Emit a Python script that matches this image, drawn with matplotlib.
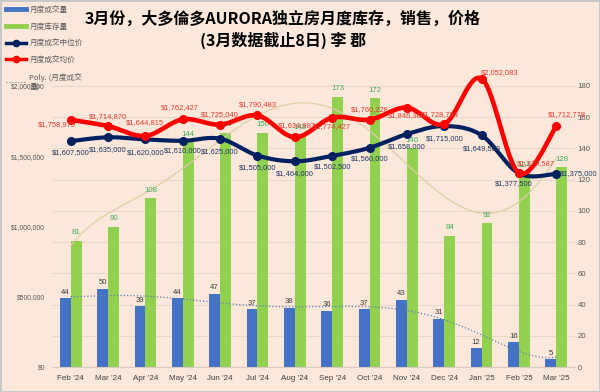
import numpy as np
import matplotlib.pyplot as plt
from matplotlib.lines import Line2D

plt.rcParams['font.family'] = ['Liberation Sans', 'Noto Sans CJK SC']

months = ["Feb '24", "Mar '24", "Apr '24", "May '24", "Jun '24", "Jul '24", "Aug '24",
          "Sep '24", "Oct '24", "Nov '24", "Dec '24", "Jan '25", "Feb '25", "Mar '25"]
volume = [44, 50, 39, 44, 47, 37, 38, 36, 37, 43, 31, 12, 16, 5]
inventory = [81, 90, 108, 144, 150, 150, 148, 173, 172, 140, 84, 92, 124, 128]
median_price = [1607500, 1635000, 1620000, 1610000, 1625000, 1505000, 1464000,
                1502500, 1560000, 1658000, 1715000, 1649500, 1377500, 1375000]
avg_price = [1758975, 1714870, 1644815, 1762427, 1725040, 1790483, 1634987,
             1774427, 1760228, 1846300, 1728784, 2052083, 1379587, 1712778]

# label offsets in pixels (dx, dy)
avg_off = [(-14, -5), (0, 10), (0, 13), (-3, 12), (0, 10), (0, 11), (2, 12),
           (0, -9), (0, 10), (0, -8), (-4, 10), (18, 6), (17, 10), (11, 12)]
med_off = [(0, -11), (0, -12), (0, -13), (0, -10), (0, -13), (0, -12), (0, -12),
           (0, -11), (0, -11), (0, -12), (0, -13), (0, -13), (-5, -10), (22, 0)]

bg = '#FCE8DA'
blue = '#4472C4'
green = '#92D050'
navy = '#002060'
red = '#FF0000'


def smooth(y, n=24):
    # catmull-rom, close to excel's smoothed line
    x = np.arange(len(y), dtype=float)
    y = np.asarray(y, dtype=float)
    px = np.concatenate([[x[0]], x, [x[-1]]])
    py = np.concatenate([[y[0]], y, [y[-1]]])
    t = np.linspace(0, 1, n)
    xs, ys = [], []
    for i in range(1, len(px) - 2):
        for p, out in ((px, xs), (py, ys)):
            p0, p1, p2, p3 = p[i - 1], p[i], p[i + 1], p[i + 2]
            out.extend(0.5 * (2 * p1 + (-p0 + p2) * t + (2 * p0 - 5 * p1 + 4 * p2 - p3) * t ** 2
                              + (-p0 + 3 * p1 - 3 * p2 + p3) * t ** 3))
    return np.array(xs), np.array(ys)


fig = plt.figure(figsize=(6, 3.92), dpi=100, facecolor=bg, edgecolor='#C8C8C8', linewidth=1)
ax = fig.add_axes([52 / 600, 25 / 392, 523 / 600, 281 / 392])
ax.set_facecolor(bg)
x = np.arange(len(months))
w = 0.29

# bars on the count axis (right side)
ax.bar(x - w / 2, volume, w, color=blue, zorder=2)
ax.bar(x + w / 2, inventory, w, color=green, zorder=2)
for i in range(len(x)):
    ax.annotate(str(volume[i]), (x[i] - w / 2, volume[i]), xytext=(0, 6), textcoords='offset pixels',
                ha='center', va='center', fontsize=5.6, color='#404040', zorder=3)
    ax.annotate(str(inventory[i]), (x[i] + w / 2, inventory[i]), xytext=(0, 8), textcoords='offset pixels',
                ha='center', va='center', fontsize=5.6, color='#3DAA55', zorder=3)

# polynomial trend lines
xf = np.linspace(0, len(x) - 1, 200)
ax.plot(xf, np.polyval(np.polyfit(x, inventory, 6), xf), color='#DCCFA6', lw=0.9, zorder=2.5)
ax.plot(xf, np.polyval(np.polyfit(x, volume, 6), xf), color='#5B7DB0', lw=0.9, ls=':', zorder=2.5)

ax.set_xlim(-0.5, len(x) - 0.5)
ax.set_ylim(0, 180)
ax.set_yticks(range(0, 181, 20))
ax.grid(axis='y', color='#EAD6C8', lw=0.7, zorder=0)
ax.set_axisbelow(True)
ax.set_xticks(x)
ax.set_xticklabels(months, fontsize=5.8, color='#404040')
for s in ax.spines.values():
    s.set_visible(False)
ax.spines['bottom'].set_visible(True)
ax.spines['bottom'].set_color('#D9CBC0')

# price lines on the left axis
ax2 = ax.twinx()
ax.yaxis.tick_right()
ax.tick_params(length=0, pad=6)
ax.tick_params(axis='y', labelsize=5.6, labelcolor='#595959', pad=2)
ax2.yaxis.tick_left()
ax2.set_ylim(0, 2000000)
ax2.set_yticks(range(0, 2000001, 500000))
ax2.set_yticklabels(['${:,}'.format(v) for v in range(0, 2000001, 500000)])
ax2.tick_params(length=0, labelsize=4.9, labelcolor='#595959', pad=5)
for s in ax2.spines.values():
    s.set_visible(False)

sx, sy = smooth(median_price)
ax2.plot(sx, sy, color=navy, lw=3, clip_on=False, zorder=4)
ax2.plot(x, median_price, 'o', color=navy, ms=5.5, clip_on=False, zorder=4)
sx, sy = smooth(avg_price)
ax2.plot(sx, sy, color=red, lw=3.3, clip_on=False, zorder=5)
ax2.plot(x, avg_price, 'o', color=red, ms=5.5, clip_on=False, zorder=5)

for i in range(len(x)):
    dx, dy = med_off[i]
    ax2.annotate('${:,}'.format(median_price[i]), (x[i], median_price[i]), xytext=(dx, dy),
                 textcoords='offset pixels', ha='center', va='center', fontsize=5.4,
                 color='#1F3864', zorder=6, annotation_clip=False)
    dx, dy = avg_off[i]
    ax2.annotate('${:,}'.format(avg_price[i]), (x[i], avg_price[i]), xytext=(dx, dy),
                 textcoords='offset pixels', ha='center', va='center', fontsize=5.4,
                 color='#E23B30', zorder=6, annotation_clip=False)

# title
fig.text(283 / 600, 1 - 19 / 392, '3月份，大多倫多AURORA独立房月度库存，销售，价格', ha='center', va='center',
         fontsize=11.5, fontweight='bold', family=['Noto Sans CJK SC'])
fig.text(283 / 600, 1 - 40 / 392, '(3月数据截止8日) 李 郡', ha='center', va='center',
         fontsize=11.5, fontweight='bold', family=['Noto Sans CJK SC'])

# legend
handles = [Line2D([], [], color=blue, lw=3.5),
           Line2D([], [], color=green, lw=3.5),
           Line2D([], [], color=navy, lw=2.5, marker='o', ms=4.5),
           Line2D([], [], color=red, lw=2.5, marker='o', ms=4.5),
           Line2D([], [], color='#7F7F7F', lw=0.8, ls=':')]
labels = ['月度成交量', '月度库存量', '月度成交中位价', '月度成交均价', 'Poly. (月度成交\n量)']
fig.legend(handles, labels, loc='upper left', bbox_to_anchor=(0.0, 1.0), frameon=False,
           prop={'family': ['Noto Sans CJK SC'], 'size': 5.5}, handlelength=2.7,
           labelspacing=1.15, handletextpad=0.4, borderpad=0.25, labelcolor='#595959')

fig.savefig('out.png', dpi=100, facecolor=bg, edgecolor='#C8C8C8')
